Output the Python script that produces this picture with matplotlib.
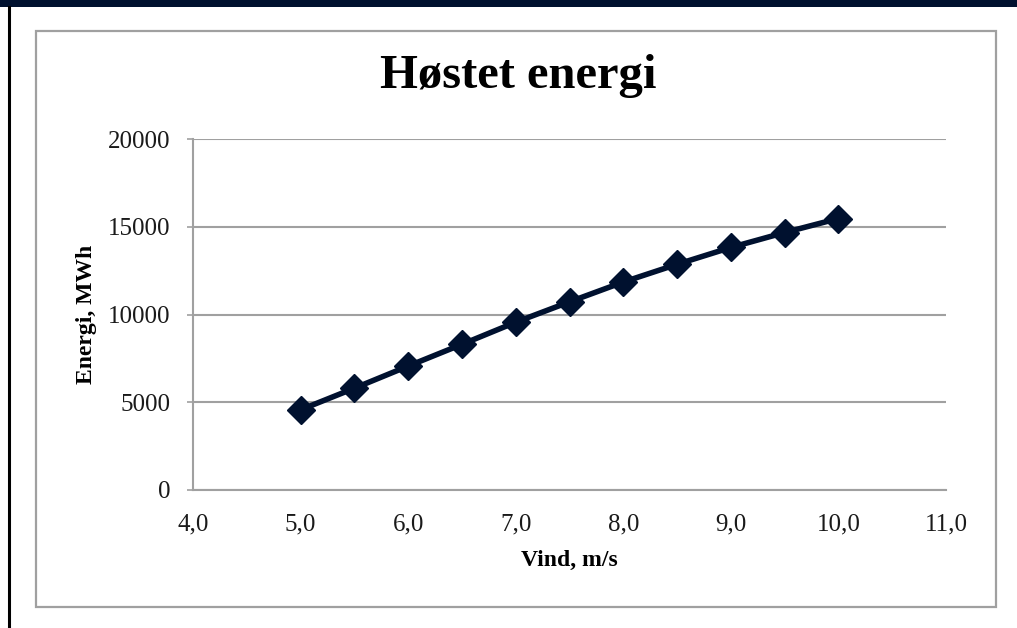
import matplotlib
matplotlib.use("Agg")
import matplotlib.pyplot as plt
from matplotlib.patches import Rectangle
from matplotlib.lines import Line2D

# data
vind = [5.0, 5.5, 6.0, 6.5, 7.0, 7.5, 8.0, 8.5, 9.0, 9.5, 10.0]
energi = [4570, 5800, 7060, 8300, 9560, 10720, 11850, 12860, 13820, 14670, 15470]
x_ticks = [4, 5, 6, 7, 8, 9, 10, 11]
y_ticks = [0, 5000, 10000, 15000, 20000]

navy = '#00112F'
grey = '#A0A0A0'

plt.rcParams['font.family'] = ['Liberation Serif', 'DejaVu Serif']

fig = plt.figure(figsize=(10.17, 6.28), dpi=100)
fig.patch.set_facecolor('white')

# dark band on top and black line on the left
fig.add_artist(Rectangle((0, 1 - 7 / 628), 1, 7 / 628, transform=fig.transFigure,
                         facecolor=navy, edgecolor='none'))
fig.add_artist(Line2D([9 / 1017, 9 / 1017], [0, 1 - 7 / 628], transform=fig.transFigure,
                      color='black', linewidth=2.2))
# chart frame
fig.add_artist(Rectangle((36 / 1017, 1 - 607 / 628), 960 / 1017, 576 / 628,
                         transform=fig.transFigure, facecolor='none',
                         edgecolor=grey, linewidth=1.6))

ax = fig.add_axes([193 / 1017, 1 - 490 / 628, 753 / 1017, 351 / 628])
ax.plot(vind, energi, color=navy, linewidth=4, marker='D', markersize=14,
        markerfacecolor=navy, markeredgecolor=navy, solid_capstyle='round')

ax.set_xlim(4, 11)
ax.set_ylim(0, 20000)
ax.set_xticks(x_ticks)
ax.set_xticklabels([f"{v:.1f}".replace('.', ',') for v in x_ticks])
ax.set_yticks(y_ticks)
ax.set_yticklabels([str(v) for v in y_ticks])
ax.tick_params(axis='x', length=0, pad=17, labelsize=18, labelcolor='#1a1a1a')
ax.tick_params(axis='y', length=4, width=1.2, color=grey, pad=12, labelsize=18,
               labelcolor='#1a1a1a')

ax.grid(axis='y', color=grey, linewidth=1.5)
ax.set_axisbelow(True)
for side in ['top', 'right']:
    ax.spines[side].set_visible(False)
for side in ['left', 'bottom']:
    ax.spines[side].set_color(grey)
    ax.spines[side].set_linewidth(1.5)

ax.set_xlabel('Vind, m/s', fontsize=17, fontweight='bold', labelpad=10)
ax.set_ylabel('Energi, MWh', fontsize=17, fontweight='bold', labelpad=8)
fig.text(518 / 1017, 1 - 76 / 628, 'Høstet energi', ha='center', va='center',
         fontsize=35, fontweight='bold')

fig.savefig('out.png', dpi=100)
